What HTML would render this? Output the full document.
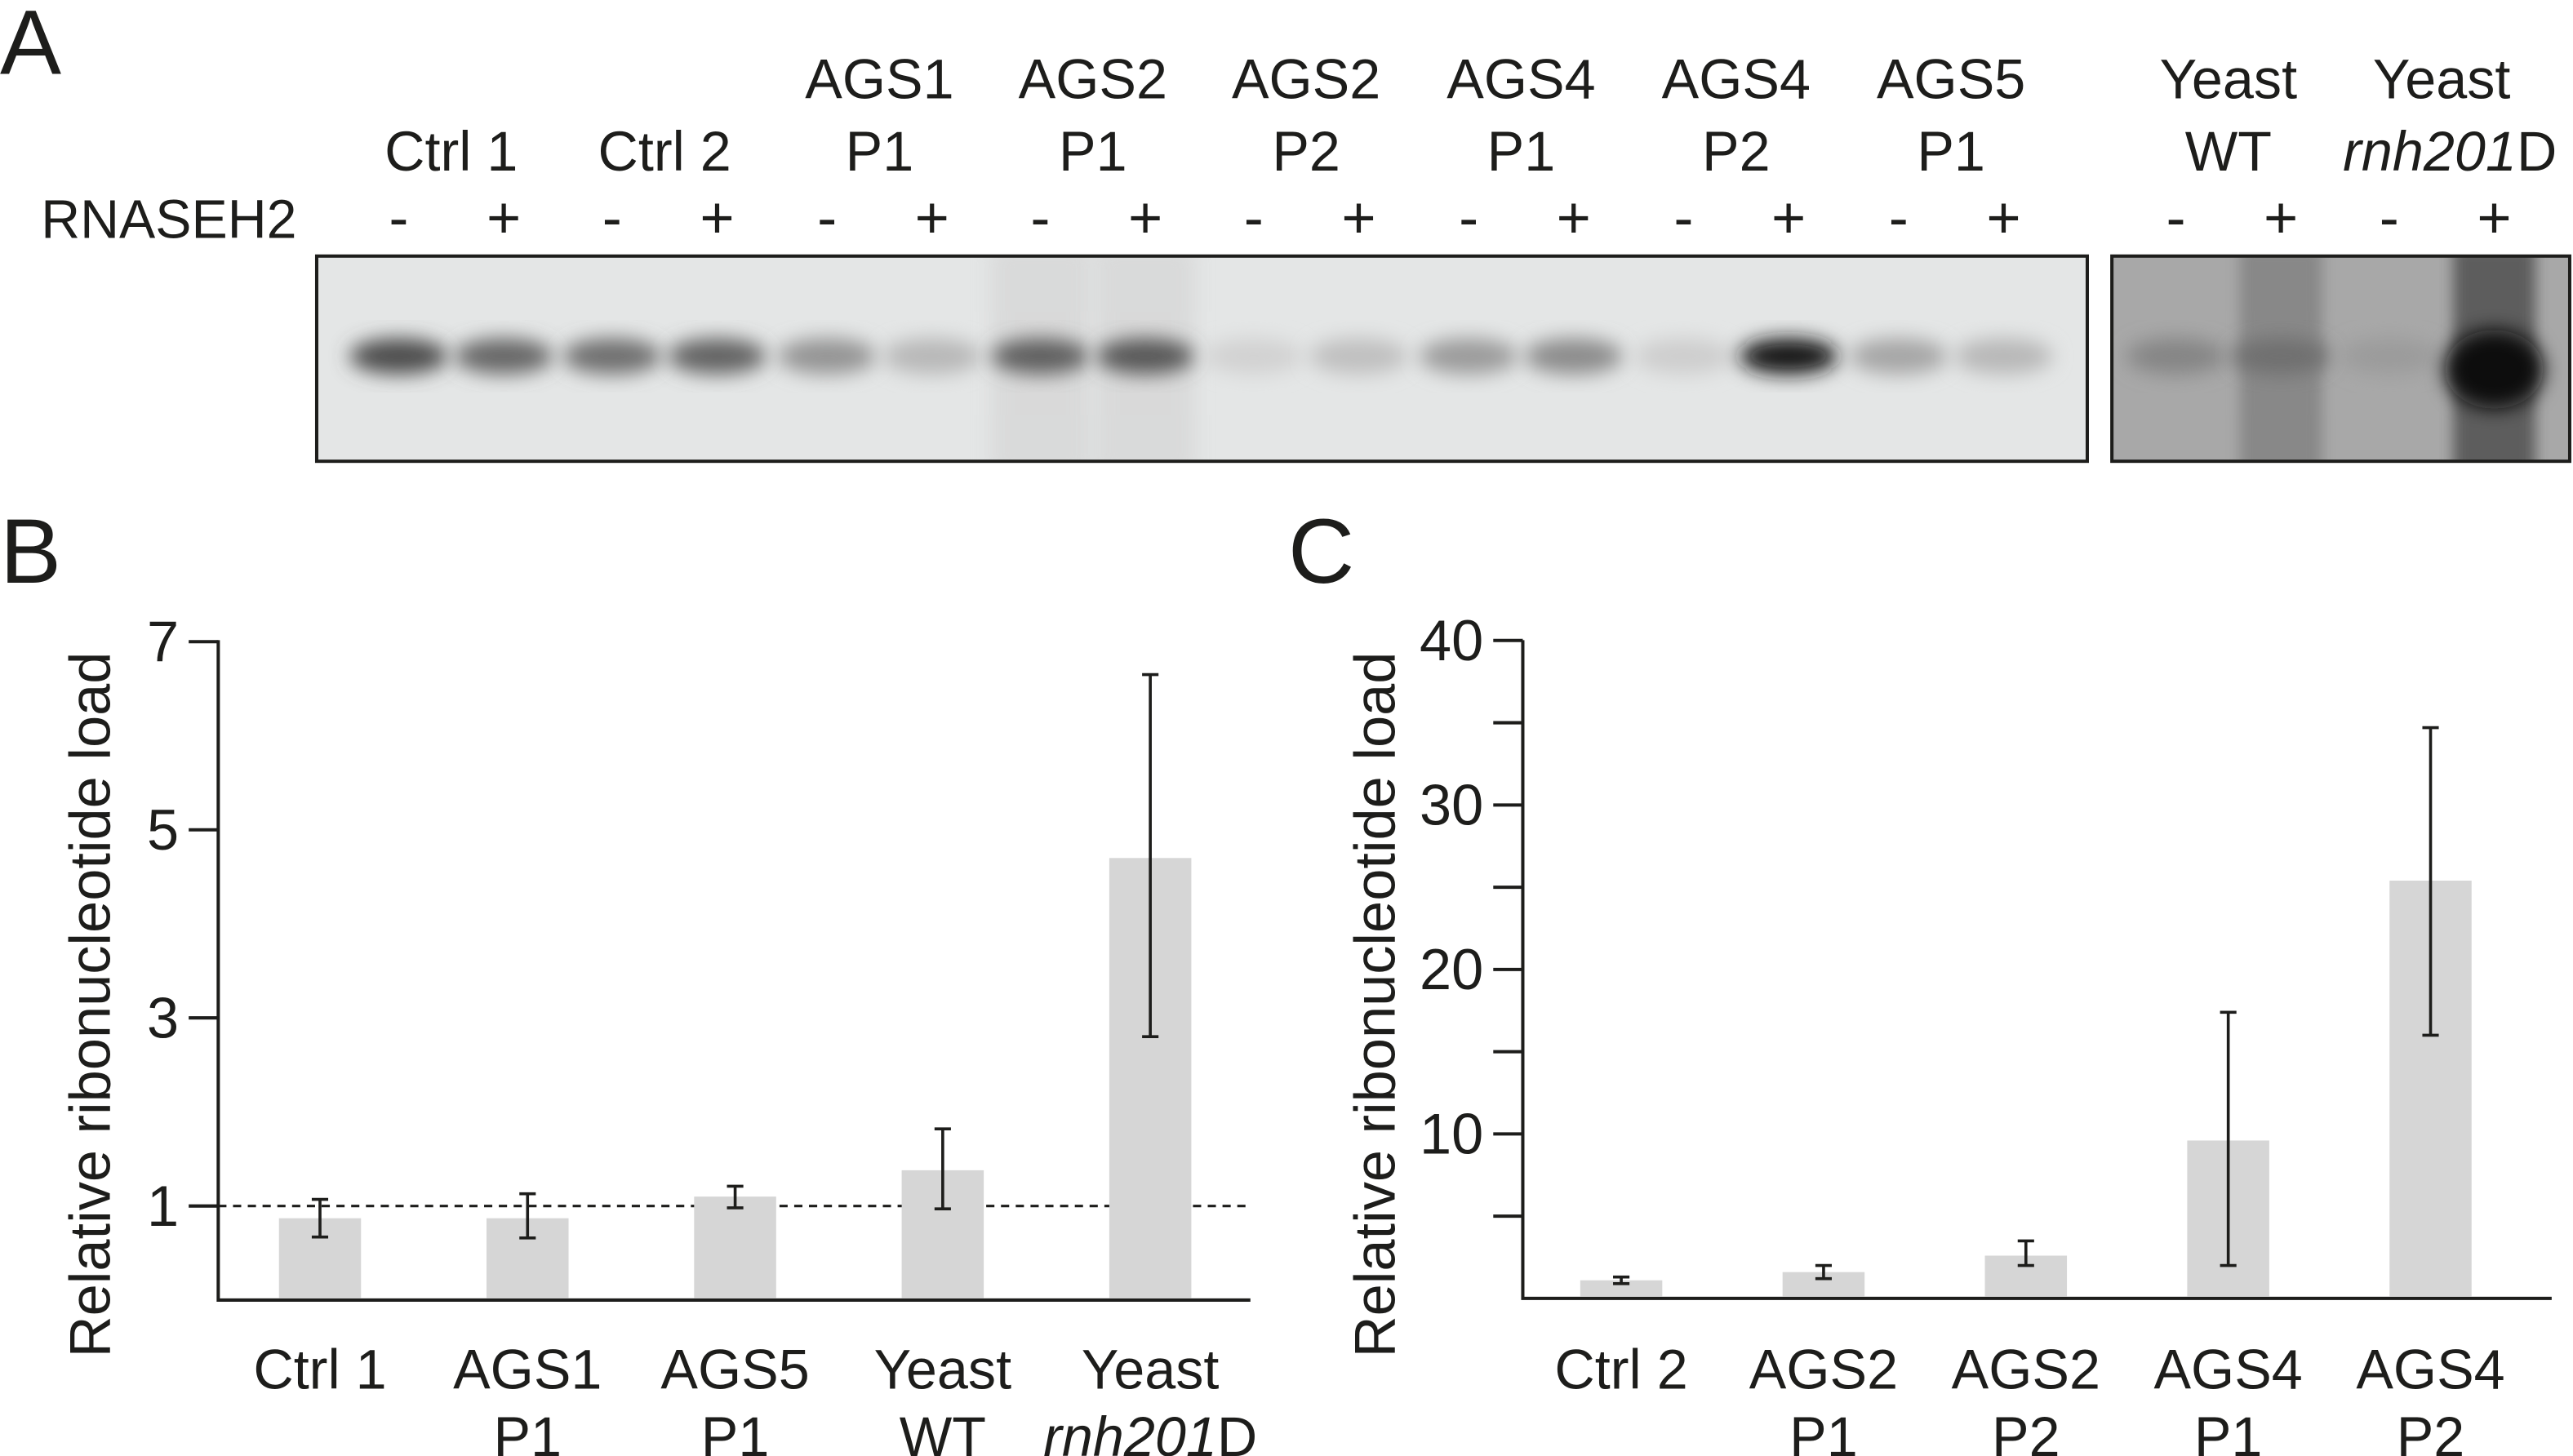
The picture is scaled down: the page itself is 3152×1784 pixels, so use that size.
<!DOCTYPE html>
<html><head><meta charset="utf-8">
<style>
html,body{margin:0;padding:0;background:#fff;}
svg{display:block;font-family:"Liberation Sans",Arial,sans-serif;}
</style></head>
<body>
<svg id="fig" width="3152" height="1784" viewBox="0 0 1568 887" preserveAspectRatio="none" xmlns="http://www.w3.org/2000/svg">
<defs>
<filter id="blur" x="-50%" y="-50%" width="200%" height="200%"><feGaussianBlur stdDeviation="6"/></filter>
<filter id="blur2" x="-50%" y="-50%" width="200%" height="200%"><feGaussianBlur stdDeviation="4"/></filter>
</defs>
<g>
<text x="0" y="45" font-size="56" fill="#1d1d1b">A</text>
<text x="25" y="145" font-size="33" fill="#1d1d1b">RNASEH2</text>
<g id="laneLabels"></g>
<g id="signs"></g>
<g>
<rect x="193" y="156" width="1079" height="125" fill="#e4e6e6"/>
<g id="gel1" clip-path="url(#c1)"></g>
<rect x="193" y="156" width="1079" height="125" fill="none" stroke="#1d1d1b" stroke-width="2"/>
</g>
<g>
<rect x="1287" y="156" width="279" height="125" fill="#a8a8a8"/>
<g id="gel2" clip-path="url(#c2)"></g>
<rect x="1287" y="156" width="279" height="125" fill="none" stroke="#1d1d1b" stroke-width="2"/>
</g>
<clipPath id="c1"><rect x="193" y="156" width="1079" height="125"/></clipPath>
<clipPath id="c2"><rect x="1287" y="156" width="279" height="125"/></clipPath>
</g>
<g id="chartB">
<text x="0" y="355" font-size="56" fill="#1d1d1b">B</text>
<text transform="translate(67,612) rotate(-90)" text-anchor="middle" font-size="35" fill="#1d1d1b">Relative ribonucleotide load</text>
</g>
<g id="chartC">
<text x="785" y="355" font-size="56" fill="#1d1d1b">C</text>
<text transform="translate(850,612) rotate(-90)" text-anchor="middle" font-size="35" fill="#1d1d1b">Relative ribonucleotide load</text>
</g>
</svg>
<script>
// Panel B data
const bCategories = [["Ctrl 1",""],["AGS1","P1"],["AGS5","P1"],["Yeast","WT"],["Yeast","rnh201D"]];
const bValues = [0.87, 0.87, 1.1, 1.38, 4.7];
const bErrLow = [0.67, 0.66, 0.98, 0.97, 2.8];
const bErrHigh = [1.07, 1.13, 1.21, 1.82, 6.65];
const bTicks = [1, 3, 5, 7];
const bTickLabels = ["1", "3", "5", "7"];
// Panel C data
const cCategories = [["Ctrl 2",""],["AGS2","P1"],["AGS2","P2"],["AGS4","P1"],["AGS4","P2"]];
const cValues = [1.1, 1.6, 2.6, 9.6, 25.4];
const cErrLow = [0.9, 1.2, 2.0, 2.0, 16.0];
const cErrHigh = [1.3, 2.0, 3.5, 17.4, 34.7];
const cTicks = [5, 10, 15, 20, 25, 30, 35, 40];
const cTickLabels = ["", "10", "", "20", "", "30", "", "40"];
// Gel data (band darkness 0..1)
const laneGroups = [["Ctrl 1",""],["Ctrl 2",""],["AGS1","P1"],["AGS2","P1"],["AGS2","P2"],["AGS4","P1"],["AGS4","P2"],["AGS5","P1"],["Yeast","WT"],["Yeast","rnh201D"]];
const bandDarkness = [0.7,0.58, 0.55,0.6, 0.38,0.22, 0.62,0.65, 0.1,0.18, 0.35,0.42, 0.12,0.95, 0.3,0.22, 0.45,0.55, 0.35,1.0];

const NS = "http://www.w3.org/2000/svg";
function mk(parent, tag, attrs, text){
  const e = document.createElementNS(NS, tag);
  for (const k in attrs) e.setAttribute(k, attrs[k]);
  if (text !== undefined) e.textContent = text;
  parent.appendChild(e); return e;
}
const INK = "#1d1d1b";
const FS = 34;

// Panel A
const groupX = [275, 405, 536, 666, 796, 927, 1058, 1189, 1358, 1488];
const labG = document.getElementById('laneLabels');
const signG = document.getElementById('signs');
const gel1 = document.getElementById('gel1');
const gel2 = document.getElementById('gel2');
laneGroups.forEach((g, i) => {
  const cx = groupX[i];
  if (g[1] === "") {
    const t = mk(labG, 'text', {x: cx, y: 104, 'font-size': FS, 'text-anchor': 'middle', fill: INK}, g[0]);
    
    
  } else {
    const t1 = mk(labG, 'text', {x: cx, y: 60, 'font-size': FS, 'text-anchor': 'middle', fill: INK}, g[0]);
    
    
    const t2 = mk(labG, 'text', {x: cx + (g[1]==="rnh201D" ? 5 : 0), y: 104, 'font-size': FS, 'text-anchor': 'middle', fill: INK});
    
    
    if (g[1] === "rnh201D") {
      mk(t2, 'tspan', {'font-style': 'italic'}, 'rnh201');
      mk(t2, 'tspan', {}, 'D');
    } else t2.textContent = g[1];
  }
  [-1, 1].forEach((s, j) => {
    const x = cx + s * 32;
    const t = mk(signG, 'text', {x: x, y: 145, 'font-size': 36, 'text-anchor': 'middle', fill: INK}, j ? '+' : '-');
    
    
    const d = bandDarkness[i * 2 + j];
    const yeast = i >= 8;
    const parent = yeast ? gel2 : gel1;
    if (!yeast && i === 3) mk(parent, 'rect', {x: x - 30, y: 150, width: 60, height: 140, fill: '#d2d2d2', opacity: 0.6, filter: 'url(#blur)'});
    if (yeast && j === 1) mk(parent, 'rect', {x: x - 25, y: 150, width: 50, height: 140, fill: i === 9 ? '#444' : '#7e7e7e', opacity: 0.75, filter: 'url(#blur2)'});
    const shade = Math.round(232 - d * 220);
    const big = yeast && d > 0.9;
    const b = mk(parent, 'ellipse', {cx: x, cy: big ? 225 : 217, rx: big ? 30 : 30, ry: big ? 24 : 11, fill: `rgb(${shade},${shade},${shade})`, filter: 'url(#blur)'});
    
    
  });
});

function barChart(gid, opt){
  const g = document.getElementById(gid);
  const y = v => opt.y0 - v * opt.pxPer;
  const ax = mk(g, 'path', {d: `M${opt.x0} ${opt.yTop} V${opt.y0} H${opt.x1}`, fill: 'none', stroke: INK, 'stroke-width': 2});
  
  
  opt.ticks.forEach((t, i) => {
    const ty = y(t);
    const tk = mk(g, 'line', {x1: opt.x0 - 18, x2: opt.x0, y1: ty, y2: ty, stroke: INK, 'stroke-width': 2});
    
    
    if (opt.tickLabels[i]) {
      const tl = mk(g, 'text', {x: opt.x0 - 24, y: ty + 12, 'font-size': 35, 'text-anchor': 'end', fill: INK}, opt.tickLabels[i]);
      
      
    }
  });
  if (opt.refLine !== undefined) {
    const rl = mk(g, 'line', {x1: opt.x0, x2: opt.x1, y1: y(opt.refLine), y2: y(opt.refLine), stroke: INK, 'stroke-width': 1.6, 'stroke-dasharray': '5,4'});
    
    
  }
  opt.values.forEach((v, i) => {
    const cx = opt.x0 + opt.firstOff + i * opt.step;
    const bar = mk(g, 'rect', {x: cx - 25, y: y(v), width: 50, height: opt.y0 - 1 - y(v), fill: '#d6d6d6'});
    
    
    const lo = y(opt.lo[i]), hi = y(opt.hi[i]);
    const eb = mk(g, 'path', {d: `M${cx} ${hi} V${lo} M${cx-5} ${hi} H${cx+5} M${cx-5} ${lo} H${cx+5}`, stroke: INK, 'stroke-width': 1.8, fill: 'none'});
    
    
    const c = opt.cats[i];
    const l1 = mk(g, 'text', {x: cx, y: 846, 'font-size': FS, 'text-anchor': 'middle', fill: INK}, c[0]);
    
    
    if (c[1]) {
      const l2 = mk(g, 'text', {x: cx, y: 887, 'font-size': FS, 'text-anchor': 'middle', fill: INK});
      
      
      if (c[1] === 'rnh201D') { mk(l2, 'tspan', {'font-style': 'italic'}, 'rnh201'); mk(l2, 'tspan', {}, 'D'); }
      else l2.textContent = c[1];
    }
  });
}
barChart('chartB', {x0: 133, x1: 762, y0: 792, yTop: 390, pxPer: 57.3, firstOff: 62, step: 126.5,
  ticks: bTicks, tickLabels: bTickLabels, values: bValues, lo: bErrLow, hi: bErrHigh, cats: bCategories, refLine: 1});
barChart('chartC', {x0: 928, x1: 1555, y0: 791, yTop: 390, pxPer: 10.02, firstOff: 60, step: 123.3,
  ticks: cTicks, tickLabels: cTickLabels, values: cValues, lo: cErrLow, hi: cErrHigh, cats: cCategories});
</script>
</body></html>
